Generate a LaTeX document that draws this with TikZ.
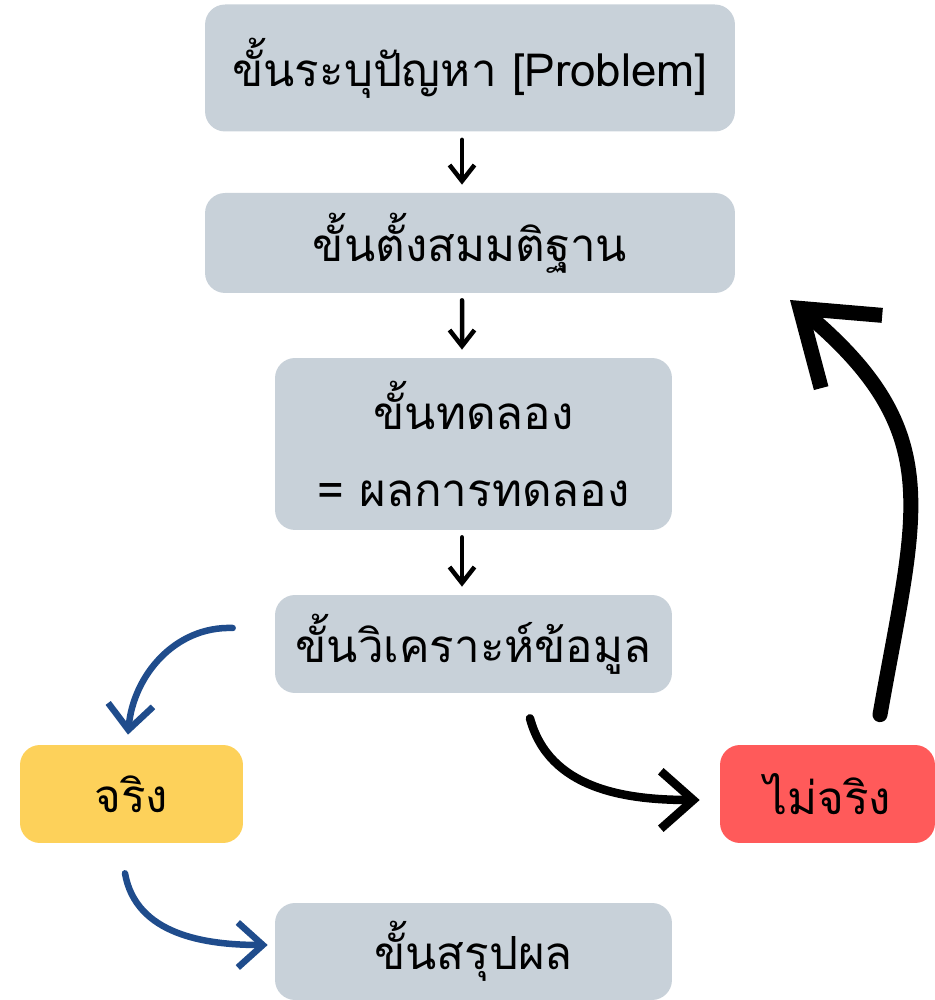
\documentclass[tikz,border=0pt]{standalone}
\usepackage{fontspec}
\newfontfamily\thaifont[Script=Thai]{Loma}
\usetikzlibrary{arrows.meta}
\definecolor{boxgray}{HTML}{C8D1D9}
\definecolor{boxyellow}{HTML}{FDD15A}
\definecolor{boxred}{HTML}{FF5A5A}
\definecolor{arrowblue}{HTML}{1F4C8C}
\tikzset{
	stepbox/.style={rectangle, rounded corners=0.4cm, fill=boxgray, inner sep=0pt, align=center,
		font=\thaifont\fontsize{26}{44}\selectfont},
	yesbox/.style={stepbox, fill=boxyellow},
	nobox/.style={stepbox, fill=boxred},
	smallarrow/.style={line width=0.09cm, line cap=round, -{Straight Barb[length=0.32cm, width=0.5cm]}},
	bluearrow/.style={line width=0.13cm, line cap=round, color=arrowblue, -{Straight Barb[length=0.5cm, width=0.9cm]}},
	backarrow/.style={line width=0.17cm, line cap=round, -{Straight Barb[length=0.65cm, width=1.15cm]}},
	bigarrow/.style={line width=0.3cm, line cap=round, -{Straight Barb[length=1.35cm, width=1.9cm]}}
}

\begin{document}
\begin{tikzpicture}[x=0.02cm, y=0.02cm]
			%%%%% START %%%%%
			\useasboundingbox (0, 0) rectangle (935, 1000);
			
			\node[stepbox, minimum width=10.6cm, minimum height=2.54cm] (problem) at (470, 932) {ขั้นระบุปัญหา [Problem]};
			\node[stepbox, minimum width=10.6cm, minimum height=2cm] (hypo) at (470, 757) {ขั้นตั้งสมมติฐาน};
			\node[stepbox, minimum width=7.94cm, minimum height=3.44cm] (test) at (473.5, 556) {ขั้นทดลอง\\= ผลการทดลอง};
			\node[stepbox, minimum width=7.94cm, minimum height=1.96cm] (analyse) at (473.5, 356) {ขั้นวิเคราะห์ข้อมูล};
			\node[yesbox, minimum width=4.46cm, minimum height=1.96cm] (yes) at (131.5, 206) {จริง};
			\node[nobox, minimum width=4.3cm, minimum height=1.96cm] (no) at (827.5, 206) {ไม่จริง};
			\node[stepbox, minimum width=7.94cm, minimum height=1.94cm] (sum) at (473.5, 48.5) {ขั้นสรุปผล};
			
			\draw[smallarrow] ([xshift=-0.16cm, yshift=-0.16cm]problem.south) -- ([xshift=-0.16cm, yshift=0.16cm]hypo.north);
			\draw[smallarrow] ([xshift=-0.16cm, yshift=-0.14cm]hypo.south) -- ([xshift=-0.23cm, yshift=0.16cm]test.north);
			\draw[smallarrow] ([xshift=-0.23cm, yshift=-0.14cm]test.south) -- ([xshift=-0.23cm, yshift=0.16cm]analyse.north);
			
			\draw[bluearrow] ([xshift=-0.84cm, yshift=0.32cm]analyse.west) to[out=178, in=85] ([xshift=-0.07cm, yshift=0.2cm]yes.north);
			\draw[bluearrow] ([xshift=-0.13cm, yshift=-0.6cm]yes.south) to[out=-80, in=180] ([xshift=-0.14cm, yshift=0.13cm]sum.west);
			
			\draw[backarrow] ([xshift=1.13cm, yshift=-0.5cm]analyse.south) to[out=-75, in=180] ([xshift=-0.4cm, yshift=-0.12cm]no.west);
			\draw[bigarrow] ([xshift=1.05cm, yshift=0.6cm]no.north) to[out=80, in=-40, looseness=1.25] (790, 700);
			
			%%%%% END %%%%%
\end{tikzpicture}
\end{document}
